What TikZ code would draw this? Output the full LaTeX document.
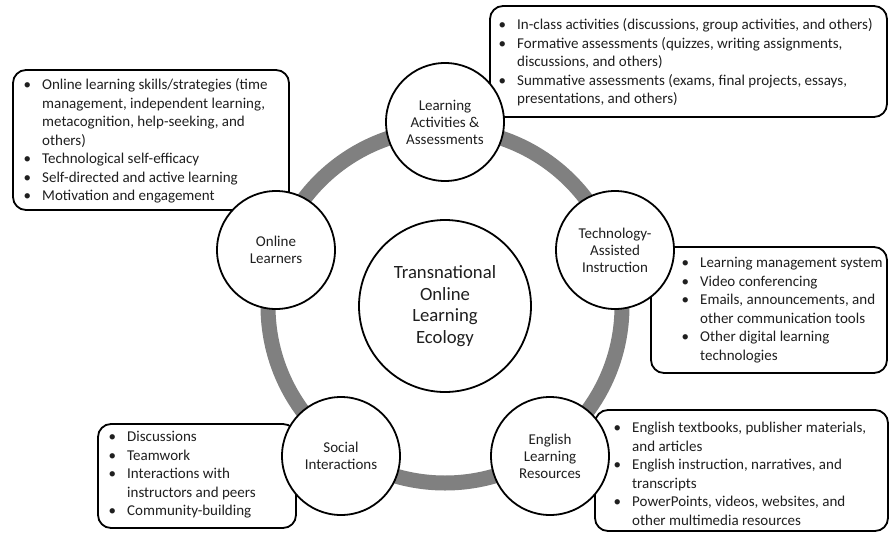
\documentclass[tikz,border=0pt]{standalone}
\usepackage{fontspec}
\setmainfont{Carlito}
\newcommand{\bl}{\llap{\textbullet\hspace{11pt}}}
\tikzset{
  infobox/.style={draw=black, line width=1.8pt, rounded corners=13pt, fill=white, inner sep=0pt},
  infotext/.style={anchor=north west, align=left, inner sep=0pt, text=black!88,
    font=\fontsize{15}{18.5}\selectfont},
  stage/.style={circle, draw=black, line width=1.8pt, fill=white, minimum size=118pt,
    inner sep=0pt, align=center, text=black!88, font=\fontsize{15}{17}\selectfont},
  hub/.style={circle, draw=black, line width=1.8pt, fill=white, minimum size=172pt,
    inner sep=0pt, align=center, text=black!88, font=\fontsize{18.7}{21.7}\selectfont},
  ringline/.style={draw=black!50, line width=15pt}
}
\begin{document}
\begin{tikzpicture}[x=1pt,y=-1pt]
\useasboundingbox (0,0) rectangle (889,533);
% boxes
\node[infobox, minimum width=397pt, minimum height=111pt] (bLA) at (688.5,61.5) {};
\node[infobox, minimum width=276pt, minimum height=140pt] (bOL) at (151,140) {};
\node[infobox, minimum width=236pt, minimum height=126pt] (bTA) at (769,310) {};
\node[infobox, minimum width=293pt, minimum height=121pt] (bEL) at (741.5,470.5) {};
\node[infobox, minimum width=198pt, minimum height=104pt] (bSI) at (197,476) {};
% box texts
\node[infotext] (tLA) at (517,16.6) {\strut\bl In-class activities (discussions, group activities, and others)\\
\bl Formative assessments (quizzes, writing assignments,\\
discussions, and others)\\
\bl Summative assessments (exams, final projects, essays,\\
presentations, and others)};
\node[infotext] (tOL) at (42,76.6) {\strut\bl Online learning skills/strategies (time\\
management, independent learning,\\
metacognition, help-seeking, and\\
others)\\
\bl Technological self-efficacy\\
\bl Self-directed and active learning\\
\bl Motivation and engagement};
\node[infotext] (tTA) at (700,254.6) {\strut\bl Learning management system\\
\bl Video conferencing\\
\bl Emails, announcements, and\\
other communication tools\\
\bl Other digital learning\\
technologies};
\node[infotext] (tEL) at (632,419.6) {\strut\bl English textbooks, publisher materials,\\
and articles\\
\bl English instruction, narratives, and\\
transcripts\\
\bl PowerPoints, videos, websites, and\\
other multimedia resources};
\node[infotext] (tSI) at (127,428.6) {\strut\bl Discussions\\
\bl Teamwork\\
\bl Interactions with\\
instructors and peers\\
\bl Community-building};
% ring
\coordinate (ctr) at (445,306);
\draw[ringline] (ctr) circle[radius=177pt];
% circles
\node[hub] (hub) at (ctr) {Transnational\\Online\\Learning\\Ecology};
\node[stage] (LA) at (445,122) {Learning\\Activities \&\\Assessments};
\node[stage] (TA) at (615,250) {Technology-\\Assisted\\Instruction};
\node[stage] (EL) at (550,456) {English\\Learning\\Resources};
\node[stage] (SI) at (341,456) {Social\\Interactions};
\node[stage] (OL) at (276,250) {Online\\Learners};
\end{tikzpicture}
\end{document}
